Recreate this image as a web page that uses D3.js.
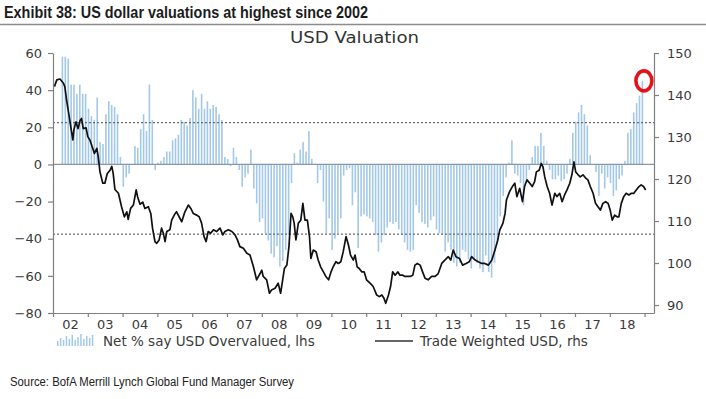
<!DOCTYPE html>
<html>
<head>
<meta charset="utf-8">
<script src="https://cdn.jsdelivr.net/npm/d3@7"></script>
<style>
  body { margin: 0; background: #fff; }
  svg { display: block; }
  .axis text { font-family: "DejaVu Sans", Verdana, sans-serif; font-size: 13px; fill: #3a3a3a; }
  .axis path, .axis line { stroke: #808080; stroke-width: 1.2; }
</style>
</head>
<body>
<svg id="chart" width="706" height="399"></svg>
<script>
// Net % of fund managers saying USD is overvalued (lhs), monthly from Apr 2002
const barStart = 2002.27;
const overvalued = [
  58, 58, 57, 43, 43, 38, 43, 38, 38,
  30, 26, 24, 36, 12, 11, 27, 34, 32, 31, 27, 4,
  -12, -7, -5, 0, 10, 9, 19, 27, 18, 43, 24, -3,
  1, 2, 4, 7, 7, 13, 14, 16, 24, 23, 21, 25,
  40, 36, 30, 38, 30, 34, 30, 32, 31, 27, 24, 4,
  3, -1, 9, 4, -3, -12, -7, -5, 8, -13, -21, -31,
  -29, -37, -41, -48, -50, -44, -55, -52, -46, -38, -10, 6,
  1, 8, 12, 7, 18, 3, 0, -10, -3, -20, -37, -29,
  -46, -40, -37, -29, -6, -3, -2, -22, -15, -45, -28, -27,
  -28, -29, -31, -38, -47, -42, -38, -34, -31, -32, -31, -35,
  -38, -42, -46, -47, -46, -22, -26, -31, -32, -34, -30, -28,
  -35, -37, -38, -47, -42, -46, -53, -55, -53, -46, -47, -51,
  -56, -51, -53, -56, -58, -49, -58, -61, -53, -41, -28, -17,
  -7, 1, 13, -5, -6, -10, -22, -8, -3, 4, 10, 10,
  17, 10, 2, -3, -8, -8, -6, -9, -8, -5, 3, 17,
  23, 28, 32, 27, 21, 5, 0, -4, -17, -5, -13, -7,
  -10, -17, -14, -8, -6, 2, 17, 19, 28, 33, 37, 45
];

// Trade weighted USD (rhs)
const usdDates = [
  2002.04, 2002.11, 2002.20, 2002.30, 2002.34, 2002.39, 2002.46, 2002.51, 2002.57, 2002.60,
  2002.66, 2002.72, 2002.78, 2002.82, 2002.87, 2002.95, 2003.00, 2003.06, 2003.14, 2003.19,
  2003.26, 2003.30, 2003.35, 2003.43, 2003.49, 2003.56, 2003.64, 2003.69, 2003.73, 2003.78,
  2003.88, 2003.97, 2004.05, 2004.12, 2004.16, 2004.23, 2004.31, 2004.39, 2004.43, 2004.50,
  2004.58, 2004.64, 2004.74, 2004.81, 2004.86, 2004.93, 2004.98, 2005.05, 2005.12, 2005.17,
  2005.22, 2005.27, 2005.36, 2005.41, 2005.51, 2005.55, 2005.65, 2005.70, 2005.79, 2005.89,
  2005.96, 2006.03, 2006.13, 2006.20, 2006.27, 2006.34, 2006.40, 2006.46, 2006.53, 2006.61,
  2006.70, 2006.80, 2006.88, 2006.94, 2007.04, 2007.14, 2007.23, 2007.30, 2007.37, 2007.47,
  2007.57, 2007.66, 2007.76, 2007.85, 2007.95, 2008.00, 2008.04, 2008.14, 2008.22, 2008.28,
  2008.38, 2008.47, 2008.54, 2008.60, 2008.65, 2008.72, 2008.78, 2008.84, 2008.89, 2008.93,
  2008.98, 2009.05, 2009.12, 2009.18, 2009.24, 2009.31, 2009.37, 2009.41, 2009.48, 2009.56,
  2009.62, 2009.69, 2009.77, 2009.84, 2009.92, 2009.99, 2010.05, 2010.13, 2010.20, 2010.27,
  2010.34, 2010.42, 2010.49, 2010.55, 2010.63, 2010.68, 2010.74, 2010.80, 2010.87, 2010.94,
  2011.01, 2011.11, 2011.20, 2011.30, 2011.38, 2011.45, 2011.51, 2011.56, 2011.64, 2011.70,
  2011.76, 2011.83, 2011.91, 2011.97, 2012.05, 2012.11, 2012.18, 2012.26, 2012.34, 2012.40,
  2012.47, 2012.55, 2012.62, 2012.69, 2012.78, 2012.88, 2012.98, 2013.07, 2013.17, 2013.26,
  2013.36, 2013.43, 2013.50, 2013.58, 2013.68, 2013.77, 2013.87, 2013.96, 2014.03, 2014.13,
  2014.22, 2014.32, 2014.41, 2014.51, 2014.61, 2014.70, 2014.77, 2014.84, 2014.93, 2014.99,
  2015.03, 2015.12, 2015.20, 2015.27, 2015.33, 2015.41, 2015.49, 2015.55, 2015.62, 2015.70,
  2015.77, 2015.84, 2015.89, 2015.97, 2016.03, 2016.08, 2016.13, 2016.20, 2016.27, 2016.34,
  2016.42, 2016.48, 2016.56, 2016.63, 2016.70, 2016.77, 2016.85, 2016.91, 2016.97, 2017.02,
  2017.09, 2017.15, 2017.23, 2017.31, 2017.37, 2017.44, 2017.52, 2017.59, 2017.66, 2017.73,
  2017.80, 2017.88, 2017.95, 2018.01, 2018.07, 2018.14, 2018.21, 2018.26, 2018.33, 2018.40,
  2018.47, 2018.55, 2018.62, 2018.69, 2018.76, 2018.84, 2018.90, 2018.97, 2019.03
];
const usdIndex = [
  142.0, 143.6, 143.8, 142.8, 142.0, 138.8, 135.2, 132.5, 129.3, 131.7,
  133.6, 132.0, 134.0, 134.4, 132.0, 132.2, 130.1, 129.3, 127.3, 126.1,
  127.3, 125.3, 121.7, 119.0, 119.0, 121.3, 122.1, 123.0, 121.3, 117.5,
  116.6, 113.4, 111.0, 112.2, 110.4, 113.0, 113.8, 117.4, 115.8, 114.0,
  114.5, 113.0, 113.4, 111.8, 108.3, 105.1, 104.7, 105.5, 108.3, 107.1,
  105.1, 107.5, 107.9, 110.2, 111.8, 112.2, 110.6, 109.8, 112.2, 113.8,
  113.0, 111.8, 111.4, 111.0, 109.5, 106.3, 105.1, 107.5, 107.1, 107.9,
  107.5, 108.3, 106.7, 107.5, 107.9, 107.5, 106.7, 105.5, 103.9, 103.5,
  102.3, 101.9, 99.1, 96.0, 97.5, 98.3, 96.8, 96.0, 92.8, 93.6,
  94.0, 95.2, 92.8, 96.0, 98.7, 99.5, 103.9, 111.8, 111.0, 109.5,
  105.5, 109.5, 110.2, 114.2, 110.2, 110.2, 106.3, 101.1, 103.1, 102.7,
  100.7, 99.1, 97.9, 96.8, 96.0, 97.9, 99.1, 100.3, 99.9, 100.3,
  102.7, 106.3, 104.3, 101.9, 100.7, 101.9, 99.1, 98.7, 97.9, 97.9,
  96.0, 95.2, 94.4, 92.4, 92.0, 92.4, 91.6, 90.4, 92.4, 94.4,
  97.9, 97.1, 97.9, 97.1, 97.1, 96.8, 96.8, 96.8, 97.1, 99.5,
  99.9, 99.5, 97.9, 96.4, 96.0, 96.8, 96.8, 97.5, 99.9, 100.7,
  101.5, 100.7, 103.1, 101.5, 101.1, 99.5, 99.9, 100.3, 101.5, 100.7,
  100.3, 99.9, 99.9, 99.5, 100.7, 103.1, 105.1, 107.9, 109.5, 111.8,
  115.0, 117.0, 118.2, 119.0, 115.8, 117.8, 114.6, 118.2, 119.8, 119.0,
  118.2, 119.4, 121.7, 122.1, 123.7, 122.9, 120.5, 118.2, 116.6, 113.8,
  116.6, 115.8, 116.6, 114.6, 116.2, 117.4, 119.0, 121.0, 124.1, 121.7,
  121.0, 120.5, 121.0, 120.2, 119.8, 118.2, 116.6, 114.2, 113.4, 112.6,
  114.2, 114.6, 114.2, 112.6, 110.2, 111.4, 111.0, 111.0, 114.2, 115.8,
  116.6, 116.2, 116.6, 116.6, 117.4, 118.2, 118.6, 118.2, 117.4
];

const yearTicks = d3.range(2002, 2020);
const yearLabels = ['02', '03', '04', '05', '06', '07', '08', '09', '10',
                    '11', '12', '13', '14', '15', '16', '17', '18'];
const leftTicks = [-80, -60, -40, -20, 0, 20, 40, 60];
const rightTicks = [90, 100, 110, 120, 130, 140, 150];
const bandLevels = [22.5, -37.5];

const svg = d3.select('#chart');
const x = d3.scaleLinear().domain([2002, 2019.27]).range([53, 654]);
const yL = d3.scaleLinear().domain([-80, 60]).range([313, 53]);
const yR = d3.scaleLinear().domain([88.1, 150]).range([313, 53]);

svg.append('rect').attr('width', 706).attr('height', 399).attr('fill', '#fff');

// header
svg.append('text')
  .attr('x', 4).attr('y', 18)
  .attr('textLength', 364).attr('lengthAdjust', 'spacingAndGlyphs')
  .style('font-family', '"Liberation Sans Narrow", "Liberation Sans", Arial, sans-serif')
  .style('font-weight', 'bold').style('font-size', '16px').style('fill', '#1c1c1c')
  .text('Exhibit 38: US dollar valuations at highest since 2002');
svg.append('line')
  .attr('x1', 0).attr('x2', 706).attr('y1', 24.5).attr('y2', 24.5)
  .attr('stroke', '#8c8c8c').attr('stroke-width', 1.6);
svg.append('text')
  .attr('x', 290).attr('y', 43)
  .attr('textLength', 129).attr('lengthAdjust', 'spacingAndGlyphs')
  .style('font-family', '"DejaVu Sans", Verdana, sans-serif')
  .style('font-size', '16px').style('fill', '#333')
  .text('USD Valuation');

// bars
svg.append('g').selectAll('rect')
  .data(overvalued)
  .join('rect')
  .attr('x', (d, i) => x(barStart + i / 12) - 0.8)
  .attr('width', 1.6)
  .attr('y', (d) => yL(Math.max(0, d)))
  .attr('height', (d) => Math.abs(yL(d) - yL(0)))
  .attr('fill', '#a3c8e8');

// zero line and dotted bands
svg.append('line')
  .attr('x1', x.range()[0]).attr('x2', x.range()[1])
  .attr('y1', yL(0)).attr('y2', yL(0))
  .attr('stroke', '#8797a4').attr('stroke-width', 1.2);
svg.append('g').selectAll('line')
  .data(bandLevels)
  .join('line')
  .attr('x1', x.range()[0]).attr('x2', x.range()[1])
  .attr('y1', (d) => yL(d)).attr('y2', (d) => yL(d))
  .attr('stroke', '#6a6a6a').attr('stroke-width', 1.2)
  .attr('stroke-dasharray', '2,2');

// trade weighted USD line
const line = d3.line()
  .x((d) => x(d[0]))
  .y((d) => yR(d[1]));
svg.append('path')
  .datum(d3.zip(usdDates, usdIndex))
  .attr('d', line)
  .attr('fill', 'none')
  .attr('stroke', '#111')
  .attr('stroke-width', 1.7)
  .attr('stroke-linejoin', 'round');

// axes
svg.append('g').attr('class', 'axis')
  .attr('transform', `translate(${x.range()[0]},0)`)
  .call(d3.axisLeft(yL).tickValues(leftTicks).tickSize(5).tickSizeOuter(0).tickPadding(6));
svg.append('g').attr('class', 'axis')
  .attr('transform', `translate(${x.range()[1]},0)`)
  .call(d3.axisRight(yR).tickValues(rightTicks).tickSize(5).tickSizeOuter(0).tickPadding(8));
svg.append('g').attr('class', 'axis')
  .attr('transform', `translate(0,${yL.range()[0]})`)
  .call(d3.axisBottom(x).tickValues(yearTicks).tickSize(4).tickSizeOuter(0).tickFormat(''));
svg.append('g').attr('class', 'axis')
  .selectAll('text')
  .data(yearLabels)
  .join('text')
  .attr('x', (d, i) => x(yearTicks[i] + 0.5))
  .attr('y', 329)
  .attr('text-anchor', 'middle')
  .text((d) => d);

// highlight on latest reading
const lastIdx = overvalued.length - 1;
svg.append('ellipse')
  .attr('cx', x(barStart + lastIdx / 12) + 1.5)
  .attr('cy', yL(overvalued[lastIdx]))
  .attr('rx', 8).attr('ry', 10)
  .attr('fill', 'none')
  .attr('stroke', '#e3121b')
  .attr('stroke-width', 3.6);

// legend
const legend = svg.append('g')
  .style('font-family', '"DejaVu Sans", Verdana, sans-serif')
  .style('font-size', '13.5px').style('fill', '#3a3a3a');
const iconBars = [5, 8, 6, 10, 7, 11, 6, 9, 12, 7, 10, 8, 11];
legend.append('g').selectAll('rect')
  .data(iconBars)
  .join('rect')
  .attr('x', (d, i) => 57 + i * 2.9)
  .attr('y', (d) => 346 - d)
  .attr('width', 1.5)
  .attr('height', (d) => d)
  .attr('fill', '#a3c8e8');
legend.append('text').attr('x', 103).attr('y', 346).text('Net % say USD Overvalued, lhs');
legend.append('line')
  .attr('x1', 375).attr('x2', 413).attr('y1', 341).attr('y2', 341)
  .attr('stroke', '#333').attr('stroke-width', 1.3);
legend.append('text').attr('x', 420).attr('y', 346).text('Trade Weighted USD, rhs');

// source
svg.append('text')
  .attr('x', 10).attr('y', 386)
  .attr('textLength', 284).attr('lengthAdjust', 'spacingAndGlyphs')
  .style('font-family', '"Liberation Sans Narrow", "Liberation Sans", Arial, sans-serif')
  .style('font-size', '12px').style('fill', '#222')
  .text('Source: BofA Merrill Lynch Global Fund Manager Survey');
</script>
</body>
</html>
